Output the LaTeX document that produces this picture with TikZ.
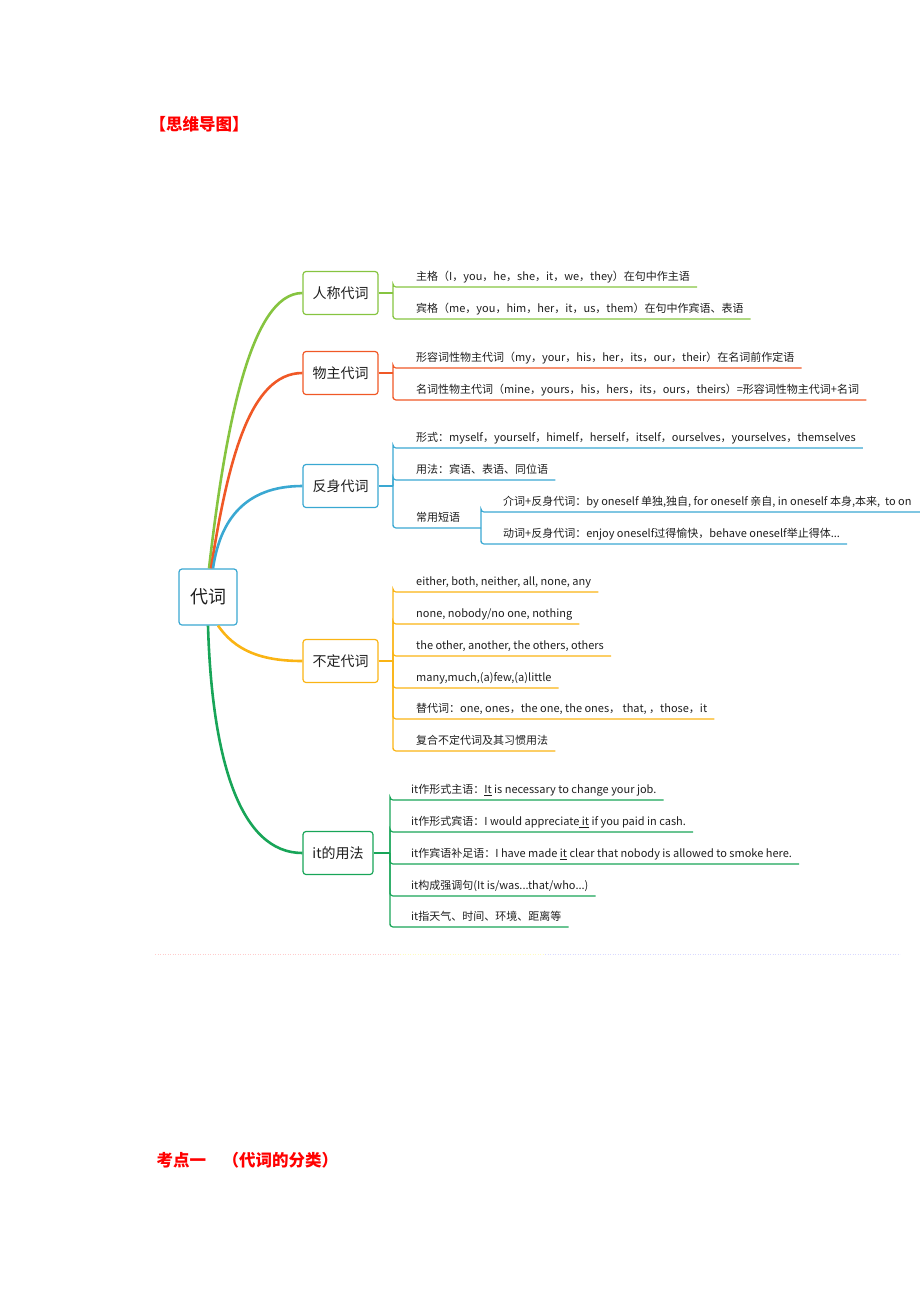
\documentclass[tikz,border=0pt]{standalone}
\usepackage{fontspec}
\setmainfont{Noto Sans CJK SC}
\usepackage{tikz}

\definecolor{renGreen}{RGB}{134,196,64}
\definecolor{wuRed}{RGB}{240,88,38}
\definecolor{fanBlue}{RGB}{58,168,210}
\definecolor{buYellow}{RGB}{250,180,20}
\definecolor{itGreen}{RGB}{24,165,88}
\definecolor{txt}{RGB}{30,30,30}

\begin{document}
\begin{tikzpicture} [x=1pt, y=-1pt,
                    root/.style={draw=fanBlue, line width=1.2pt, rounded corners=3pt, fill=white,
                                 minimum width=58pt, minimum height=56pt, inner sep=0pt, text=txt,
                                 font=\fontsize{18}{20}\selectfont},
                    topic/.style={draw, line width=1.2pt, rounded corners=3pt, fill=white,
                                  minimum width=75pt, minimum height=43pt, inner sep=0pt, text=txt,
                                  font=\fontsize{14}{16}\selectfont},
                    leaf/.style={anchor=south west, inner sep=0pt, text height=9pt, text depth=6pt,
                                 text=txt, font=\fontsize{11}{13}\selectfont},
                    stem/.style={line width=2.6pt},
                    twig/.style={line width=1.2pt, rounded corners=3pt},
                    heading/.style={anchor=west, text=red, font=\bfseries\fontsize{16.5}{19}\selectfont}]

\useasboundingbox (0,0) rectangle (920,1302);

\node[heading] (title) at (146,124) {【思维导图】};

% centre and the five branches
\node[root] (daici) at (208,597) {代词};
\node[topic, draw=renGreen] (renCheng) at (340.5,293) {人称代词};
\node[topic, draw=wuRed] (wuZhu) at (340.5,373) {物主代词};
\node[topic, draw=fanBlue] (fanShen) at (340.5,486) {反身代词};
\node[topic, draw=buYellow] (buDing) at (340.5,661) {不定代词};
\node[topic, draw=itGreen, minimum width=70pt] (itYong) at (338,853) {it的用法};

\draw[stem, renGreen] ([xshift=1pt]daici.north) .. controls (225,430) and (250,293) .. (renCheng.west);
\draw[stem, wuRed] ([xshift=3pt]daici.north) .. controls (228,460) and (250,373) .. (wuZhu.west);
\draw[stem, fanBlue] ([xshift=5pt]daici.north) .. controls (220,520) and (245,486) .. (fanShen.west);
\draw[stem, buYellow] ([xshift=10pt]daici.south) .. controls (235,650) and (260,661) .. (buDing.west);
\draw[stem, itGreen] (daici.south) .. controls (212,760) and (240,853) .. (itYong.west);

% 人称代词
\coordinate (renFork) at (393,293);
\node[leaf] (ren1) at (416,287) {主格（I，you，he，she，it，we，they）在句中作主语};
\node[leaf] (ren2) at (416,319) {宾格（me，you，him，her，it，us，them）在句中作宾语、表语};
\draw[twig, renGreen] (renCheng.east) -- (renFork);
\draw[twig, renGreen] (renFork) |- ([xshift=-23pt]ren1.south west) -- ([xshift=7pt]ren1.south east);
\draw[twig, renGreen] (renFork) |- ([xshift=-23pt]ren2.south west) -- ([xshift=7pt]ren2.south east);

% 物主代词
\coordinate (wuFork) at (393,373);
\node[leaf] (wu1) at (416,368) {形容词性物主代词（my，your，his，her，its，our，their）在名词前作定语};
\node[leaf] (wu2) at (416,400) {名词性物主代词（mine，yours，his，hers，its，ours，theirs）=形容词性物主代词+名词};
\draw[twig, wuRed] (wuZhu.east) -- (wuFork);
\draw[twig, wuRed] (wuFork) |- ([xshift=-23pt]wu1.south west) -- ([xshift=7pt]wu1.south east);
\draw[twig, wuRed] (wuFork) |- ([xshift=-23pt]wu2.south west) -- ([xshift=7pt]wu2.south east);

% 反身代词
\coordinate (fanFork) at (393,486);
\coordinate (fanFork2) at (481,528);
\node[leaf] (fan1) at (416,448) {形式：myself，yourself，himelf，herself，itself，ourselves，yourselves，themselves};
\node[leaf] (fan2) at (416,480) {用法：宾语、表语、同位语};
\node[leaf] (fan3) at (416,528) {常用短语};
\node[leaf] (fan4) at (503,512) {介词+反身代词：by oneself 单独,独自, for oneself 亲自, in oneself 本身,本来,\ \ to on};
\node[leaf] (fan5) at (503,544) {动词+反身代词：enjoy oneself过得愉快，behave oneself举止得体...};
\draw[twig, fanBlue] (fanShen.east) -- (fanFork);
\draw[twig, fanBlue] (fanFork) |- ([xshift=-23pt]fan1.south west) -- ([xshift=7pt]fan1.south east);
\draw[twig, fanBlue] (fanFork) |- ([xshift=-23pt]fan2.south west) -- ([xshift=7pt]fan2.south east);
\draw[twig, fanBlue] (fanFork) |- ([xshift=-23pt]fan3.south west) -- (fanFork2);
\draw[twig, fanBlue] (fanFork2) |- ([xshift=-22pt]fan4.south west) -- ([xshift=12pt]fan4.south east);
\draw[twig, fanBlue] (fanFork2) |- ([xshift=-22pt]fan5.south west) -- ([xshift=7pt]fan5.south east);

% 不定代词
\coordinate (buFork) at (393,661);
\node[leaf] (bu1) at (416,592) {either, both, neither, all, none, any};
\node[leaf] (bu2) at (416,624) {none, nobody/no one, nothing};
\node[leaf] (bu3) at (416,656) {the other, another, the others, others};
\node[leaf] (bu4) at (416,688) {many,much,(a)few,(a)little};
\node[leaf] (bu5) at (416,719) {替代词：one, ones，the one, the ones，\ that,\ ，those，it};
\node[leaf] (bu6) at (416,751) {复合不定代词及其习惯用法};
\draw[twig, buYellow] (buDing.east) -- (buFork);
\foreach \n in {bu1,bu2,bu3,bu4,bu5,bu6}
  \draw[twig, buYellow] (buFork) |- ([xshift=-23pt]\n.south west) -- ([xshift=7pt]\n.south east);

% it的用法
\coordinate (itFork) at (390,853);
\node[leaf] (it1) at (411,800) {it作形式主语：\underline{It} is necessary to change your job.};
\node[leaf] (it2) at (411,832) {it作形式宾语：I would appreciate\underline{\ it} if you paid in cash.};
\node[leaf] (it3) at (411,864) {it作宾语补足语：I have made \underline{it} clear that nobody is allowed to smoke here.};
\node[leaf] (it4) at (411,896) {it构成强调句(It is/was...that/who...)};
\node[leaf] (it5) at (411,927) {it指天气、时间、环境、距离等};
\draw[twig, itGreen] (itYong.east) -- (itFork);
\foreach \n in {it1,it2,it3,it4,it5}
  \draw[twig, itGreen] (itFork) |- ([xshift=-21pt]\n.south west) -- ([xshift=7pt]\n.south east);

% faint dotted rule
\draw[dotted, line width=0.5pt, red!20] (155,954) -- (400,954);
\draw[dotted, line width=0.5pt, yellow!25] (400,954) -- (545,954);
\draw[dotted, line width=0.5pt, blue!15] (545,954) -- (900,954);

\node[heading] (kaoDian) at (153,1160) {考点一　（代词的分类）};
\end{tikzpicture}
\end{document}
